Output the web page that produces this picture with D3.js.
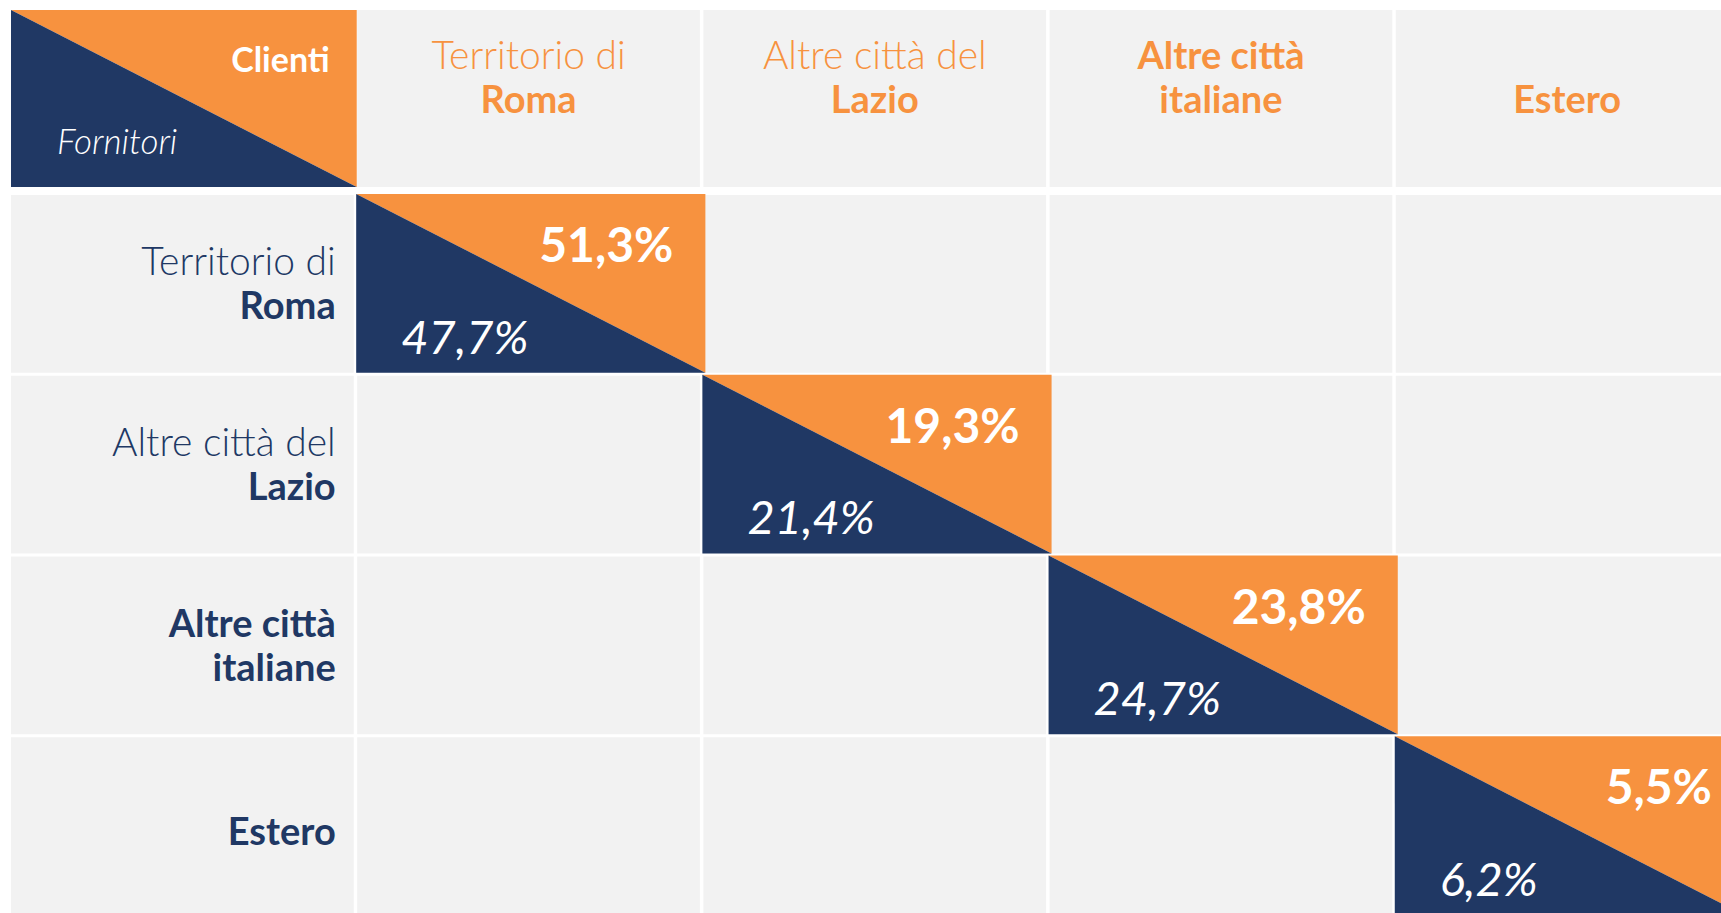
<!DOCTYPE html>
<html>
<head>
<meta charset="utf-8">
<script src="https://cdn.jsdelivr.net/npm/d3@7"></script>
<style>
  body { margin: 0; background: #fff; }
  text { font-family: "Century Gothic", Lato, sans-serif; }
</style>
</head>
<body>
<svg id="chart"></svg>
<script>
// provenienza dei fornitori / destinazione dei clienti
var categories = ["Territorio di Roma", "Altre città del Lazio", "Altre città italiane", "Estero"]
var prefixLines = [["Territorio di"], ["Altre città del"], [], []]
var nameLines = [["Roma"], ["Lazio"], ["Altre città", "italiane"], ["Estero"]]
var fornitori = [47.7, 21.4, 24.7, 6.2]
var clienti = [51.3, 19.3, 23.8, 5.5]

var W = 1721, H = 913
var orange = "#f7923f", navy = "#203864", cellBg = "#f2f2f2"

var it = d3.formatLocale({decimal: ",", thousands: ".", grouping: [3], currency: ["€", ""]})
var pct = function(v) { return it.format(".1f")(v) + "%" }

var svg = d3.select("#chart").attr("width", W).attr("height", H)

var cols = ["__corner"].concat(categories)
var x = d3.scaleBand().domain(cols).range([11, 11 + 5 * 345.5]).paddingInner(0.01)
var y = d3.scaleBand().domain(categories).range([195, 195 + 4 * 180]).paddingInner(3 / 180)
var headTop = 10, headH = 177

var lines = categories.map(function(c, i) {
    var pre = prefixLines[i].map(function(t) { return {text: t, bold: false} })
    var nm = nameLines[i].map(function(t) { return {text: t, bold: true} })
    return pre.concat(nm)
})

// background grid cells
var cells = []
cols.forEach(function(c) {
    if (c !== "__corner") cells.push({x: x(c), y: headTop})
})
categories.forEach(function(r) {
    cols.forEach(function(c) { cells.push({x: x(c), y: y(r), h: y.bandwidth()}) })
})
svg.selectAll(".bg").data(cells).join("rect").attr("class", "bg")
    .attr("x", d => d.x).attr("y", d => d.y)
    .attr("width", x.bandwidth()).attr("height", d => d.h || headH)
    .attr("fill", cellBg)

// split square helper
function splitCell(g, x0, y0, w, h) {
    g.append("path").attr("fill", orange)
        .attr("d", `M${x0},${y0}L${x0 + w},${y0}L${x0 + w},${y0 + h}Z`)
    g.append("path").attr("fill", navy)
        .attr("d", `M${x0},${y0}L${x0},${y0 + h}L${x0 + w},${y0 + h}Z`)
}

// corner header
var corner = svg.append("g")
splitCell(corner, x("__corner"), headTop, x.bandwidth() + 3, headH)
corner.append("text").attr("x", x("__corner") + x.bandwidth() - 24).attr("y", 72)
    .attr("text-anchor", "end").attr("fill", "#fff").attr("font-weight", 700)
    .attr("font-size", 34).text("Clienti")
corner.append("text").attr("x", x("__corner") + 46).attr("y", 154)
    .attr("fill", "#fff").attr("font-style", "italic").attr("font-weight", 300)
    .attr("font-size", 35).text("Fornitori")

// column headers (clienti)
categories.forEach(function(c, i) {
    var ls = lines[i]
    var t = svg.append("text").attr("text-anchor", "middle").attr("fill", orange)
    ls.forEach(function(l, k) {
        t.append("tspan").attr("x", x(c) + x.bandwidth() / 2)
            .attr("y", 113 - (ls.length - 1 - k) * 44)
            .attr("font-size", l.bold ? 38 : 39)
            .attr("font-weight", l.bold ? 700 : 300).text(l.text)
    })
})

// row headers (fornitori)
categories.forEach(function(r, i) {
    var ls = lines[i]
    var t = svg.append("text").attr("text-anchor", "end").attr("fill", navy)
    ls.forEach(function(l, k) {
        t.append("tspan").attr("x", x("__corner") + x.bandwidth() - 18)
            .attr("y", y(r) + 108 - (ls.length - 1) * 28 + k * 44)
            .attr("font-size", l.bold ? 38 : 39)
            .attr("font-weight", l.bold ? 700 : 300).text(l.text)
    })
})

// diagonal cells
categories.forEach(function(c, i) {
    var x0 = x(c) - 1, y0 = y(c) - 1, w = x.step() + 3, h = y.bandwidth() + 1
    var g = svg.append("g").attr("class", "diag")
    splitCell(g, x0, y0, w, h)
    g.append("text").attr("x", x0 + w - 32).attr("y", y0 + 68)
        .attr("text-anchor", "end").attr("fill", "#fff").attr("font-weight", 700)
        .attr("font-size", 48).text(pct(clienti[i]))
    g.append("text").attr("x", x0 + 45).attr("y", y0 + h - 19)
        .attr("fill", "#fff").attr("font-style", "italic").attr("font-weight", 400)
        .attr("font-size", 47).text(pct(fornitori[i]))
})
</script>
</body>
</html>
